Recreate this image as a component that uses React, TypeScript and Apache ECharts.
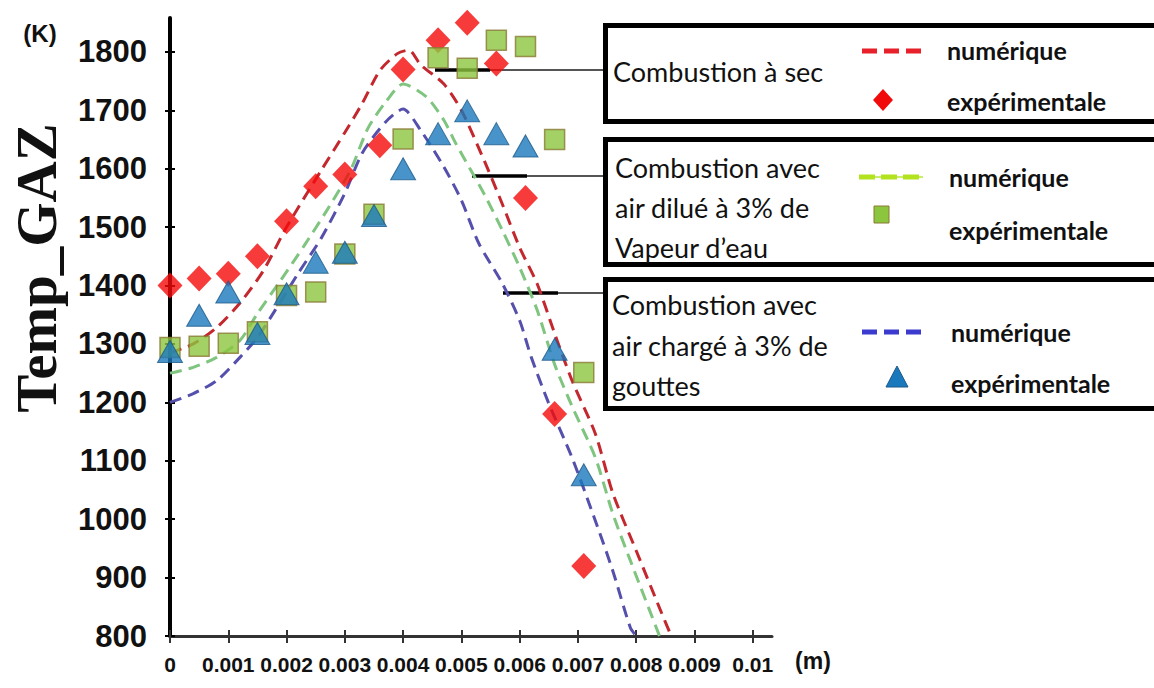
import React, { useEffect, useRef } from "react";
import * as echarts from "echarts";

// ---- axis ticks ----
const xTickLabels = ["0", "0.001", "0.002", "0.003", "0.004", "0.005", "0.006", "0.007", "0.008", "0.009", "0.01"];
const yTickLabels = ["800", "900", "1000", "1100", "1200", "1300", "1400", "1500", "1600", "1700", "1800"];

// ---- numerical curves (x in m, T in K) ----
const numDry: [number, number][] = [
  [0, 1285], [0.0004, 1300], [0.0008, 1328], [0.0012, 1370], [0.0016, 1425], [0.002, 1500],
  [0.0026, 1598], [0.003, 1662], [0.0033, 1712], [0.0036, 1768], [0.0039, 1797], [0.0041, 1803],
  [0.0043, 1778], [0.0047, 1745], [0.005, 1700], [0.0054, 1612], [0.0057, 1540], [0.006, 1465],
  [0.0063, 1403], [0.0066, 1318], [0.0069, 1237], [0.0073, 1146], [0.0076, 1044], [0.008, 946],
  [0.0084, 848], [0.0086, 800],
];
const numVapor: [number, number][] = [
  [0, 1250], [0.0004, 1260], [0.0008, 1277], [0.0012, 1306], [0.0015, 1352], [0.0019, 1409],
  [0.0023, 1468], [0.0027, 1530], [0.0031, 1598], [0.0034, 1670], [0.0037, 1714], [0.004, 1745],
  [0.0044, 1723], [0.0047, 1683], [0.0049, 1644], [0.0054, 1555], [0.0057, 1495], [0.006, 1431],
  [0.0063, 1358], [0.0066, 1265], [0.0069, 1193], [0.0073, 1105], [0.0076, 1009], [0.0079, 929],
  [0.0084, 800],
];
const numDrops: [number, number][] = [
  [0, 1200], [0.0004, 1215], [0.0008, 1237], [0.0012, 1277], [0.0015, 1311], [0.0018, 1357],
  [0.0022, 1421], [0.0026, 1482], [0.003, 1558], [0.0033, 1627], [0.0037, 1680], [0.004, 1702],
  [0.0043, 1666], [0.0047, 1603], [0.005, 1546], [0.0053, 1472], [0.0057, 1404], [0.006, 1340],
  [0.0062, 1277], [0.0065, 1198], [0.0069, 1105], [0.0073, 997], [0.0076, 911], [0.0079, 814],
  [0.008, 800],
];

// ---- experimental points ----
const expDry: [number, number][] = [
  [0, 1400], [0.0005, 1412], [0.001, 1420], [0.0015, 1450], [0.002, 1510], [0.0025, 1570],
  [0.003, 1590], [0.0036, 1640], [0.004, 1770], [0.0046, 1820], [0.0051, 1850], [0.0056, 1780],
  [0.0061, 1550], [0.0066, 1180], [0.0071, 920],
];
const expVapor: [number, number][] = [
  [0, 1294], [0.0005, 1296], [0.001, 1301], [0.0015, 1321], [0.002, 1383], [0.0025, 1389],
  [0.003, 1454], [0.0035, 1522], [0.004, 1651], [0.0046, 1790], [0.0051, 1772], [0.0056, 1820],
  [0.0061, 1809], [0.0066, 1650], [0.0071, 1251],
];
const expDrops: [number, number][] = [
  [0, 1287], [0.0005, 1349], [0.001, 1389], [0.0015, 1318], [0.002, 1386], [0.0025, 1440],
  [0.003, 1457], [0.0035, 1520], [0.004, 1600], [0.0046, 1660], [0.0051, 1699], [0.0056, 1660],
  [0.0061, 1639], [0.0066, 1291], [0.0071, 1076],
];

const xTickValues = xTickLabels.map(Number);
const yTickValues = yTickLabels.map(Number);

const SANS = "'Liberation Sans', Arial, sans-serif";
const LEG = "Lato, 'Open Sans', sans-serif";

export default function App() {
  const ref = useRef<HTMLDivElement>(null);
  useEffect(() => {
    document.body.style.margin = "0";
    const chart = echarts.init(ref.current!, undefined, { renderer: "svg" });

    const fmt = (vals: number[], labels: string[]) => (v: number) => {
      const i = vals.findIndex((t) => Math.abs(t - v) < 1e-9 * Math.max(1, Math.abs(t)));
      return i >= 0 ? labels[i] : "";
    };

    const text = (x: number, y: number, t: string, bold = false, size = 27) => ({
      type: "text",
      x,
      y,
      z: 12,
      style: {
        text: t,
        fill: "#111",
        fontFamily: LEG,
        fontWeight: bold ? "bold" : "normal",
        fontSize: size,
        textAlign: "left",
        textVerticalAlign: "middle",
      },
    });
    const box = (y: number, h: number) => ({
      type: "rect",
      z: 10,
      shape: { x: 605.5, y, width: 570, height: h },
      style: { fill: "#fff", stroke: "#000", lineWidth: 5 },
    });
    const conn = (x0: number, xm: number, y: number) => [
      { type: "line", z: 1, shape: { x1: xm, y1: y, x2: 604, y2: y }, style: { stroke: "#555", lineWidth: 2 } },
      { type: "line", z: 1, shape: { x1: x0, y1: y, x2: xm, y2: y }, style: { stroke: "#000", lineWidth: 3.5 } },
    ];

    const lineSeries = (name: string, data: [number, number][], color: string) => ({
      name,
      type: "line",
      data,
      smooth: 0.25,
      symbol: "none",
      z: 2,
      lineStyle: { color, width: 3, type: [12, 7] },
    });

    chart.setOption({
      animation: false,
      backgroundColor: "#fff",
      grid: { left: 170, top: 18, width: 602, height: 618, containLabel: false },
      xAxis: [
        {
          type: "value",
          position: "bottom",
          min: 0,
          max: 0.01033,
          axisLine: { show: true, lineStyle: { color: "#333", width: 3 } },
          axisTick: { show: true, customValues: xTickValues, length: 7, lineStyle: { color: "#333", width: 2 } },
          axisLabel: {
            customValues: xTickValues,
            formatter: fmt(xTickValues, xTickLabels),
            margin: 18,
            color: "#111",
            fontFamily: SANS,
            fontWeight: "bold",
            fontSize: 21,
            hideOverlap: false,
            showMaxLabel: true,
            showMinLabel: true,
          },
          splitLine: { show: false },
        },
        {
          type: "value",
          position: "bottom",
          min: 0,
          max: 0.01033,
          axisLine: { show: false },
          axisTick: { show: true, inside: true, customValues: xTickValues, length: 6, lineStyle: { color: "#333", width: 2 } },
          axisLabel: { show: false },
          splitLine: { show: false },
        },
      ],
      yAxis: [
        {
          type: "value",
          position: "left",
          min: 800,
          max: 1858,
          axisLine: { show: true, lineStyle: { color: "#000", width: 4 } },
          axisTick: { show: true, customValues: yTickValues, length: 5, lineStyle: { color: "#000", width: 2 } },
          axisLabel: {
            customValues: yTickValues,
            formatter: fmt(yTickValues, yTickLabels),
            margin: 23,
            color: "#111",
            fontFamily: SANS,
            fontWeight: "bold",
            fontSize: 31,
          },
          splitLine: { show: false },
        },
        {
          type: "value",
          position: "left",
          min: 800,
          max: 1858,
          axisLine: { show: false },
          axisTick: { show: true, inside: true, customValues: yTickValues, length: 5, lineStyle: { color: "#000", width: 2 } },
          axisLabel: { show: false },
          splitLine: { show: false },
        },
      ],
      series: [
        lineSeries("Combustion à sec – numérique", numDry, "#c3282e"),
        lineSeries("Vapeur d’eau – numérique", numVapor, "#7fc47f"),
        lineSeries("Gouttes – numérique", numDrops, "#5650ad"),
        {
          name: "Combustion à sec – expérimentale",
          type: "scatter",
          data: expDry,
          symbol: "diamond",
          symbolSize: [25, 26],
          z: 3,
          itemStyle: { color: "#f50a0a" },
        },
        {
          name: "Vapeur d’eau – expérimentale",
          type: "scatter",
          data: expVapor,
          symbol: "rect",
          symbolSize: [20, 20],
          z: 4,
          itemStyle: { color: "#8cc63f", borderColor: "#8a7a35", borderWidth: 1.5 },
        },
        {
          name: "Gouttes – expérimentale",
          type: "scatter",
          data: expDrops,
          symbol: "triangle",
          symbolSize: [25, 22],
          z: 5,
          itemStyle: { color: "#1a78bd", borderColor: "#1d5a8a", borderWidth: 1 },
        },
      ],
      graphic: [
        // axis titles
        {
          type: "text",
          x: 36,
          y: 268,
          rotation: Math.PI / 2,
          z: 12,
          style: {
            text: "Temp_GAZ",
            fill: "#111",
            fontFamily: "'Liberation Serif', 'DejaVu Serif', serif",
            fontWeight: "bold",
            fontSize: 57,
            textAlign: "center",
            textVerticalAlign: "middle",
          },
        },
        {
          type: "text",
          x: 40,
          y: 33,
          z: 12,
          style: { text: "(K)", fill: "#111", fontFamily: SANS, fontWeight: "bold", fontSize: 24, textAlign: "center", textVerticalAlign: "middle" },
        },
        {
          type: "text",
          x: 813,
          y: 661,
          z: 12,
          style: { text: "(m)", fill: "#111", fontFamily: SANS, fontWeight: "bold", fontSize: 23, textAlign: "center", textVerticalAlign: "middle" },
        },
        // connectors
        ...conn(435, 490, 70),
        ...conn(472, 527, 176),
        ...conn(503, 558, 293),
        // legend boxes
        box(25.5, 96),
        box(139.5, 125),
        box(279.5, 129),
        // box 1
        text(613, 71, "Combustion à sec"),
        text(947, 50, "numérique", true, 25),
        text(947, 101, "expérimentale", true, 25),
        { type: "line", z: 12, shape: { x1: 862, y1: 51, x2: 923, y2: 51 }, style: { stroke: "#e8202a", lineWidth: 5, lineDash: [15, 7] } },
        { type: "polygon", z: 12, shape: { points: [[883, 89], [893, 100], [883, 111], [873, 100]] }, style: { fill: "#f00a0a" } },
        // box 2
        text(615, 167, "Combustion avec"),
        text(615, 207, "air dilué à 3% de"),
        text(615, 247, "Vapeur d’eau"),
        text(949, 177, "numérique", true, 25),
        text(949, 230, "expérimentale", true, 25),
        { type: "line", z: 12, shape: { x1: 859, y1: 177, x2: 923, y2: 177 }, style: { stroke: "#c9ee6a", lineWidth: 2 } },
        { type: "line", z: 12, shape: { x1: 859, y1: 177, x2: 923, y2: 177 }, style: { stroke: "#b3e31e", lineWidth: 5, lineDash: [16, 6] } },
        { type: "rect", z: 12, shape: { x: 874, y: 206, width: 15, height: 17 }, style: { fill: "#8cc63f", stroke: "#8a7a35", lineWidth: 1 } },
        // box 3
        text(612, 304, "Combustion avec"),
        text(612, 345, "air chargé à 3% de"),
        text(612, 385, "gouttes"),
        text(951, 332, "numérique", true, 25),
        text(951, 383, "expérimentale", true, 25),
        { type: "line", z: 12, shape: { x1: 862, y1: 332, x2: 923, y2: 332 }, style: { stroke: "#3b3bd0", lineWidth: 5, lineDash: [15, 7] } },
        { type: "polygon", z: 12, shape: { points: [[897, 366], [908, 387], [886, 387]] }, style: { fill: "#1a78bd", stroke: "#1d5a8a", lineWidth: 1 } },
      ],
    });
    return () => chart.dispose();
  }, []);
  return <div ref={ref} style={{ width: 1154, height: 688 }} />;
}
